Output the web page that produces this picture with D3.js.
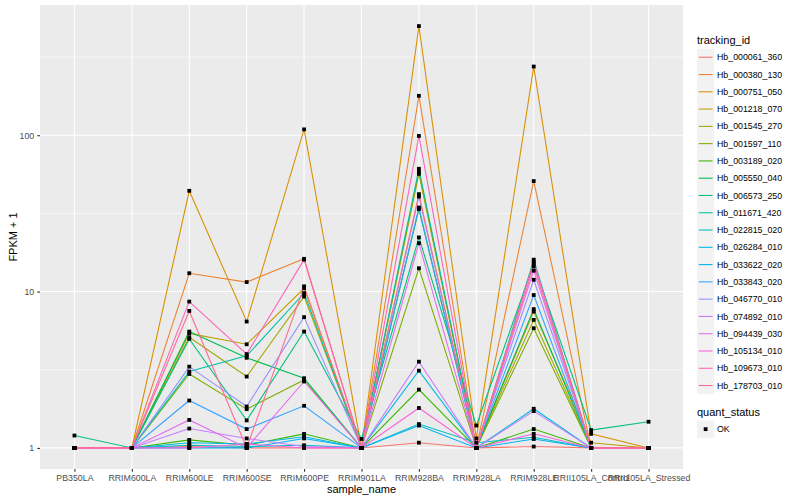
<!DOCTYPE html>
<html>
<head>
<meta charset="utf-8">
<script src="https://cdn.jsdelivr.net/npm/d3@7"></script>
<style>
  body { margin: 0; background: #fff; }
  text { font-family: "Liberation Sans", Arial, sans-serif; }
</style>
</head>
<body>
<div id="chart"></div>
<script>
// samples along the x axis
var samples = ["PB350LA", "RRIM600LA", "RRIM600LE", "RRIM600SE", "RRIM600PE", "RRIM901LA",
  "RRIM928BA", "RRIM928LA", "RRIM928LE", "RRII105LA_Control", "RRII105LA_Stressed"];

var trackingIds = ["Hb_000061_360", "Hb_000380_130", "Hb_000751_050", "Hb_001218_070", "Hb_001545_270",
  "Hb_001597_110", "Hb_003189_020", "Hb_005550_040", "Hb_006573_250", "Hb_011671_420",
  "Hb_022815_020", "Hb_026284_010", "Hb_033622_020", "Hb_033843_020", "Hb_046770_010",
  "Hb_074892_010", "Hb_094439_030", "Hb_105134_010", "Hb_109673_010", "Hb_178703_010"];

var colors = ["#F8766D", "#EA8331", "#D89000", "#C09B00", "#A3A500", "#7CAE00", "#39B600", "#00BB4E",
  "#00BF7D", "#00C1A3", "#00BFC4", "#00BAE0", "#00B0F6", "#35A2FF", "#9590FF", "#C77CFF",
  "#E76BF3", "#FA62DB", "#FF62BC", "#FF6C91"];

// FPKM + 1 per tracking id, one value per sample
var fpkm = [
  [1, 1, 1.02, 1.0, 1.0, 1.0, 1.08, 1.0, 1.02, 1.0, 1.0],
  [1, 1, 13.1, 11.5, 16.2, 1.0, 178.7, 1.0, 50.9, 1.0, 1.0],
  [1, 1, 44.1, 6.43, 109, 1.0, 499, 1.15, 275, 1.23, 1.0],
  [1, 1, 5.4, 4.6, 10.5, 1.0, 58.6, 1.0, 7.45, 1.08, 1.0],
  [1, 1, 5.1, 2.86, 9.29, 1.0, 56.6, 1.0, 6.59, 1.0, 1.0],
  [1, 1, 2.97, 1.77, 2.72, 1.0, 14.1, 1.0, 5.83, 1.0, 1.0],
  [1, 1, 1.125, 1.04, 1.23, 1.0, 2.36, 1.0, 1.32, 1.0, 1.0],
  [1, 1, 5.55, 3.77, 2.79, 1.0, 33.7, 1.0, 7.72, 1.0, 1.0],
  [1.2, 1, 4.98, 1.5, 5.55, 1.14, 22.2, 1.39, 15.0, 1.3, 1.47],
  [1, 1, 3.08, 3.88, 9.77, 1.0, 61, 1.0, 16.0, 1.0, 1.0],
  [1, 1, 1.04, 1.02, 1.04, 1.0, 1.42, 1.08, 1.17, 1.0, 1.0],
  [1, 1, 1.08, 1.06, 1.18, 1.0, 3.12, 1.0, 1.78, 1.0, 1.0],
  [1, 1, 1.0, 1.0, 1.15, 1.0, 1.39, 1.0, 1.14, 1.0, 1.0],
  [1, 1, 2.01, 1.32, 1.86, 1.0, 34.5, 1.0, 9.5, 1.0, 1.0],
  [1, 1, 3.31, 1.84, 6.86, 1.0, 40.5, 1.0, 11.9, 1.0, 1.0],
  [1, 1, 1.33, 1.15, 1.02, 1.0, 3.56, 1.0, 1.72, 1.0, 1.0],
  [1, 1, 1.51, 1.0, 2.66, 1.0, 20.4, 1.0, 13.6, 1.0, 1.0],
  [1, 1, 1.0, 1.06, 1.0, 1.0, 1.8, 1.0, 1.23, 1.0, 1.0],
  [1, 1, 8.63, 3.98, 16.0, 1.0, 99, 1.0, 15.5, 1.0, 1.0],
  [1, 1, 7.52, 1.0, 10.8, 1.0, 42, 1.0, 14.5, 1.0, 1.0]
];

var yTicks = [1, 10, 100];

// set the dimensions and margins of the graph
var margin = {top: 5, right: 117, bottom: 31, left: 40},
  width = 800 - margin.left - margin.right,
  height = 500 - margin.top - margin.bottom;

var svg = d3.select("#chart")
  .append("svg")
  .attr("width", 800)
  .attr("height", 500);

var g = svg.append("g")
  .attr("transform", "translate(" + margin.left + "," + margin.top + ")");

// scales (ggplot style 5% expansion in log space)
var x = d3.scalePoint()
  .domain(samples)
  .range([0, width])
  .padding(0.6);

var all = d3.merge(fpkm);
var lo = Math.log10(d3.min(all)), hi = Math.log10(d3.max(all)), pad = (hi - lo) * 0.05;
var y = d3.scaleLog()
  .domain([Math.pow(10, lo - pad), Math.pow(10, hi + pad)])
  .range([height, 0]);

// panel
g.append("rect")
  .attr("width", width)
  .attr("height", height)
  .attr("fill", "#EBEBEB");

// minor grid lines, midway between decades
var minor = [-0.5, 0.5, 1.5, 2.5].map(function(d) { return Math.pow(10, d); })
  .filter(function(d) { return d >= y.domain()[0] && d <= y.domain()[1]; });
g.append("g").selectAll("line")
  .data(minor)
  .enter().append("line")
  .attr("x1", 0).attr("x2", width)
  .attr("y1", function(d) { return y(d); })
  .attr("y2", function(d) { return y(d); })
  .attr("stroke", "#fff")
  .attr("stroke-width", 0.55);

// major grid
g.append("g").selectAll("line")
  .data(yTicks)
  .enter().append("line")
  .attr("x1", 0).attr("x2", width)
  .attr("y1", function(d) { return y(d); })
  .attr("y2", function(d) { return y(d); })
  .attr("stroke", "#fff")
  .attr("stroke-width", 1.1);

g.append("g").selectAll("line")
  .data(samples)
  .enter().append("line")
  .attr("y1", 0).attr("y2", height)
  .attr("x1", function(d) { return x(d); })
  .attr("x2", function(d) { return x(d); })
  .attr("stroke", "#fff")
  .attr("stroke-width", 1.1);

// axes
var xAxis = g.append("g")
  .attr("transform", "translate(0," + height + ")")
  .call(d3.axisBottom(x).tickSize(2.75).tickPadding(3));
var yAxis = g.append("g")
  .call(d3.axisLeft(y).tickValues(yTicks).tickFormat(d3.format("d")).tickSize(2.75).tickPadding(3));

[xAxis, yAxis].forEach(function(a) {
  a.select(".domain").remove();
  a.selectAll(".tick line").attr("stroke", "#333333").attr("stroke-width", 1.1);
  a.selectAll(".tick text")
    .attr("fill", "#4D4D4D")
    .style("font-size", "8.8px")
    .style("font-family", "'Liberation Sans', Arial, sans-serif");
});

// lines
var line = d3.line()
  .x(function(d, i) { return x(samples[i]); })
  .y(function(d) { return y(d); });

g.append("g").selectAll("path")
  .data(fpkm)
  .enter().append("path")
  .attr("d", line)
  .attr("fill", "none")
  .attr("stroke", function(d, i) { return colors[i]; })
  .attr("stroke-width", 1.07);

// points
var pts = [];
fpkm.forEach(function(row) {
  row.forEach(function(v, j) { pts.push({s: samples[j], v: v}); });
});
g.append("g").selectAll("rect")
  .data(pts)
  .enter().append("rect")
  .attr("x", function(d) { return x(d.s) - 1.9; })
  .attr("y", function(d) { return y(d.v) - 1.9; })
  .attr("width", 3.8)
  .attr("height", 3.8)
  .attr("fill", "#000");

// axis titles
svg.append("text")
  .attr("x", margin.left + width / 2)
  .attr("y", 493)
  .attr("text-anchor", "middle")
  .style("font-size", "11px")
  .text("sample_name");

svg.append("text")
  .attr("transform", "translate(17," + (margin.top + height / 2) + ") rotate(-90)")
  .attr("text-anchor", "middle")
  .style("font-size", "11px")
  .text("FPKM + 1");

// legend: tracking_id
var legend = svg.append("g").attr("transform", "translate(697,0)");
legend.append("text")
  .attr("x", 0).attr("y", 44)
  .style("font-size", "11px")
  .text("tracking_id");

var keys = legend.selectAll(".key")
  .data(trackingIds)
  .enter().append("g")
  .attr("class", "key")
  .attr("transform", function(d, i) { return "translate(0," + (48.6 + i * 17.28) + ")"; });
keys.append("rect")
  .attr("width", 17.28).attr("height", 17.28)
  .attr("fill", "#F2F2F2");
keys.append("line")
  .attr("x1", 1.7).attr("x2", 15.6)
  .attr("y1", 8.64).attr("y2", 8.64)
  .attr("stroke", function(d, i) { return colors[i]; })
  .attr("stroke-width", 1.07);
keys.append("text")
  .attr("x", 20).attr("y", 8.64)
  .attr("dy", "0.35em")
  .attr("fill", "#000")
  .style("font-size", "8.8px")
  .text(function(d) { return d; });

// legend: quant_status
legend.append("text")
  .attr("x", 0).attr("y", 416)
  .style("font-size", "11px")
  .text("quant_status");
legend.append("rect")
  .attr("y", 420.5).attr("width", 17.28).attr("height", 17.28)
  .attr("fill", "#F2F2F2");
legend.append("rect")
  .attr("x", 8.64 - 1.9).attr("y", 420.5 + 8.64 - 1.9)
  .attr("width", 3.8).attr("height", 3.8)
  .attr("fill", "#000");
legend.append("text")
  .attr("x", 20).attr("y", 420.5 + 8.64)
  .attr("dy", "0.35em")
  .style("font-size", "8.8px")
  .text("OK");
</script>
</body>
</html>
